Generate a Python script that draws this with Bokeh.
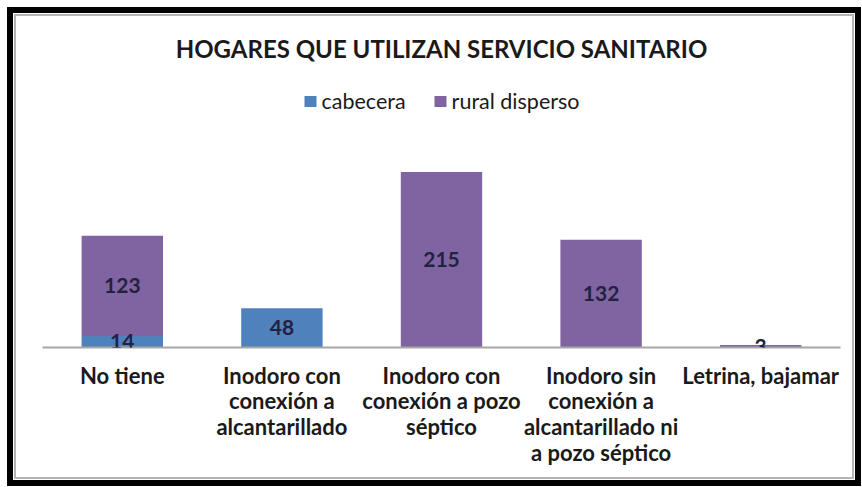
from bokeh.plotting import figure
from bokeh.models import ColumnDataSource, FactorRange, LabelSet, Legend, Title
from bokeh.core.properties import value
from bokeh.embed import file_html
from bokeh.resources import INLINE

categories = [
    "No tiene",
    "Inodoro con\nconexión a\nalcantarillado",
    "Inodoro con\nconexión a pozo\nséptico",
    "Inodoro sin\nconexión a\nalcantarillado ni\na pozo séptico",
    "Letrina, bajamar",
]
cabecera = [14, 48, 0, 0, 0]
rural_disperso = [123, 0, 215, 132, 3]
series_names = ["cabecera", "rural disperso"]
colors = ["#4F81BD", "#8064A2"]

source = ColumnDataSource(dict(cat=categories, cabecera=cabecera, rural=rural_disperso))

W, H = 854, 479
p = figure(
    width=W, height=H,
    x_range=FactorRange(factors=categories, range_padding=0),
    y_range=(0, 331),
    output_backend="svg", toolbar_location=None,
    min_border_left=29, min_border_right=27, min_border_top=64, min_border_bottom=145,
)
p.styles = {
    "border": "6px solid black",
    "margin": "7px 0 0 7px",
    "background": "white",
    "box-shadow": "inset 0 0 0 1px white, inset 0 0 0 3px #b4b4b4",
}
p.background_fill_alpha = 0
p.border_fill_alpha = 0
p.outline_line_color = None

title = Title(text="HOGARES QUE UTILIZAN SERVICIO SANITARIO", align="center",
              text_font="Lato", text_font_size="24px", text_font_style="bold",
              text_color="#1a1a1a", standoff=29)
p.add_layout(title, "above")

renderers = p.vbar_stack(["cabecera", "rural"], x="cat", width=0.51, source=source,
                         fill_color=colors, line_color=None)

legend = Legend(items=[(series_names[0], [renderers[0]]), (series_names[1], [renderers[1]])],
                location="top_center", orientation="horizontal",
                label_text_font="Lato", label_text_font_size="21.5px", label_text_color="#1a1a1a",
                glyph_width=15, glyph_height=14, spacing=27, padding=0, margin=11,
                border_line_color=None, background_fill_alpha=0, label_standoff=4)
p.add_layout(legend, "center")

# data labels
lab_x, lab_y, lab_t = [], [], []
for c, a, b in zip(categories, cabecera, rural_disperso):
    if a:
        lab_x.append(c); lab_y.append(a / 2); lab_t.append(str(a))
    if b:
        lab_x.append(c); lab_y.append(a + b / 2); lab_t.append(str(b))
lsrc = ColumnDataSource(dict(x=lab_x, y=lab_y, t=lab_t))
p.add_layout(LabelSet(x="x", y="y", text="t", source=lsrc, text_align="center",
                      text_baseline="middle", text_font=value("Lato"), text_font_style="bold",
                      text_font_size="21px", text_color="#22223f"))

p.xgrid.visible = False
p.ygrid.visible = False
p.yaxis.visible = False
ax = p.xaxis[0]
ax.axis_line_color = "#a6a6a6"
ax.axis_line_width = 2
ax.major_tick_line_color = None
ax.minor_tick_line_color = None
ax.major_label_standoff = 8
ax.major_label_text_font = "Lato"
ax.major_label_text_font_style = "bold"
ax.major_label_text_font_size = "22px"
ax.major_label_text_line_height = 0.96
ax.major_label_text_color = "#1a1a1a"
ax.major_label_orientation = "horizontal"

open("out.html", "w").write(file_html(p, INLINE))
